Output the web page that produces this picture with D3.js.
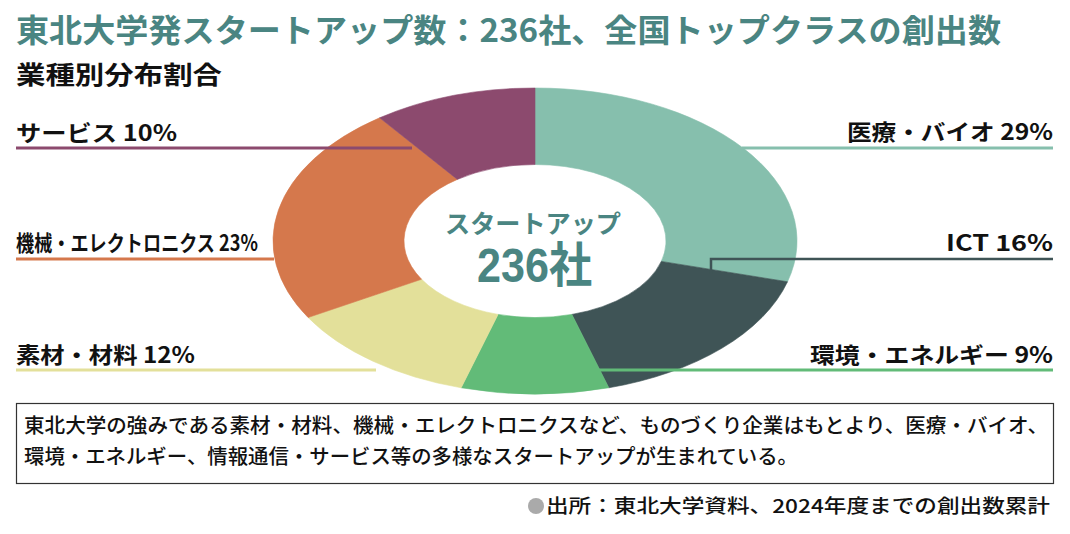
<!DOCTYPE html>
<html>
<head>
<meta charset="utf-8">
<script src="https://cdn.jsdelivr.net/npm/d3@7"></script>
<style>
  body { margin: 0; background: #fff; }
  svg text { font-family: "Noto Sans CJK JP", "Noto Sans", sans-serif; }
</style>
</head>
<body>
<svg id="chart" width="1070" height="534"></svg>
<script>
"use strict";

// data
const categories = ["医療・バイオ", "ICT", "環境・エネルギー", "素材・材料", "機械・エレクトロニクス", "サービス"];
const shares = [29, 16, 9, 12, 23, 10];
const colors = ["#86bfad", "#3f5456", "#62bb78", "#e3e09a", "#d5784c", "#8c4a6e"];

// label layout (same order as categories)
const labelSide  = ["right", "right", "right", "left", "left", "left"];
const labelY     = [140, 251, 363, 363, 251, 141];
const lineY      = [148, 259, 370, 370, 259, 148];
const lineEndX   = [742, 711, 599, 376, 274, 412];
const labelWidth = [206, 107, 243, 179, 242, 161];

const W = 1070, H = 534;
const cx = 535, cy = 241, rx = 262, ry = 153;

const svg = d3.select("#chart");

    // title
svg.append("text")
    .attr("x", 16).attr("y", 42)
    .attr("font-size", 32).attr("font-weight", 700)
    .attr("fill", "#4a8582")
    .attr("textLength", 985).attr("lengthAdjust", "spacingAndGlyphs")
    .text("東北大学発スタートアップ数：236社、全国トップクラスの創出数");

svg.append("text")
    .attr("x", 16).attr("y", 84)
    .attr("font-size", 25).attr("font-weight", 700)
    .attr("fill", "#111")
    .attr("textLength", 206).attr("lengthAdjust", "spacingAndGlyphs")
    .text("業種別分布割合");


    // donut (unit circle stretched to an ellipse)
const pie = d3.pie().sort(null).value(d => d.v);
const arcs = pie(categories.map((c, i) => ({ c: c, v: shares[i], col: colors[i] })));

const arc = d3.arc().innerRadius(50).outerRadius(100);

const donut = svg.append("g")
    .attr("transform", `translate(${cx},${cy}) scale(${rx / 100},${ry / 100})`);

donut.selectAll("path")
    .data(arcs)
    .join("path")
    .attr("d", arc)
    .attr("fill", d => d.data.col)
    .attr("stroke", d => d.data.col)
    .attr("stroke-width", 0.6)
    .attr("vector-effect", "non-scaling-stroke");


    // leader lines + labels
arcs.forEach((d, i) => {
    const right = labelSide[i] === "right";
    const x0 = right ? 1053 : 16;

    if (i === 1) {
        svg.append("path")
            .attr("d", `M${x0},${lineY[i]}H${lineEndX[i]}V${lineY[i] + 15}`)
            .attr("fill", "none")
            .attr("stroke", colors[i])
            .attr("stroke-width", 2.5);
    } else {
        svg.append("line")
            .attr("x1", x0).attr("x2", lineEndX[i])
            .attr("y1", lineY[i]).attr("y2", lineY[i])
            .attr("stroke", colors[i])
            .attr("stroke-width", 3);
    }

    svg.append("text")
        .attr("x", right ? x0 - labelWidth[i] : x0)
        .attr("y", labelY[i])
        .attr("font-size", 22).attr("font-weight", 700)
        .attr("fill", "#111")
        .attr("textLength", labelWidth[i]).attr("lengthAdjust", "spacingAndGlyphs")
        .text(categories[i] + " " + shares[i] + "%");
});


    // center
svg.append("text")
    .attr("x", cx - 90).attr("y", 233)
    .attr("font-size", 25).attr("font-weight", 700)
    .attr("fill", "#4a8582")
    .attr("textLength", 176).attr("lengthAdjust", "spacingAndGlyphs")
    .text("スタートアップ");

svg.append("text")
    .attr("x", cx - 58).attr("y", 282)
    .attr("font-size", 48).attr("font-weight", 700)
    .attr("fill", "#4a8582")
    .style("font-family", "'Liberation Sans', 'Noto Sans CJK JP', sans-serif")
    .attr("textLength", 115).attr("lengthAdjust", "spacingAndGlyphs")
    .text("236社");


    // note box
svg.append("rect")
    .attr("x", 16.5).attr("y", 403.5)
    .attr("width", 1037).attr("height", 80)
    .attr("fill", "#fff")
    .attr("stroke", "#333").attr("stroke-width", 1.2);

const noteLines = [
    "東北大学の強みである素材・材料、機械・エレクトロニクスなど、ものづくり企業はもとより、医療・バイオ、",
    "環境・エネルギー、情報通信・サービス等の多様なスタートアップが生まれている。"
];
const noteWidth = [1024, 774];

noteLines.forEach((t, i) => {
    svg.append("text")
        .attr("x", 24).attr("y", 433 + i * 31)
        .attr("font-size", 20).attr("font-weight", 500)
        .attr("fill", "#111")
        .attr("textLength", noteWidth[i]).attr("lengthAdjust", "spacingAndGlyphs")
        .text(t);
});


    // source
svg.append("circle")
    .attr("cx", 536).attr("cy", 506).attr("r", 8)
    .attr("fill", "#aaa");

svg.append("text")
    .attr("x", 546).attr("y", 513)
    .attr("font-size", 19).attr("font-weight", 500)
    .attr("fill", "#111")
    .attr("textLength", 504).attr("lengthAdjust", "spacingAndGlyphs")
    .text("出所：東北大学資料、2024年度までの創出数累計");

</script>
</body>
</html>
